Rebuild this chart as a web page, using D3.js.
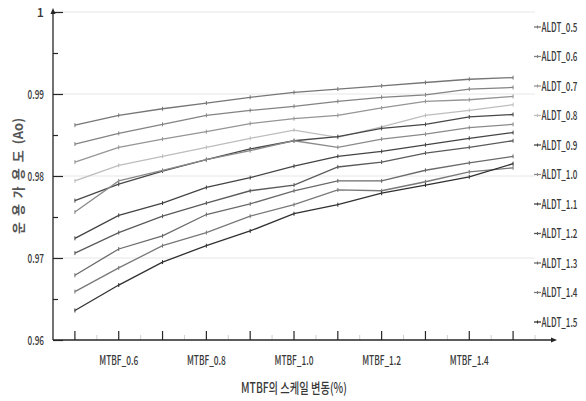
<!DOCTYPE html>
<html>
<head>
<meta charset="utf-8">
<script src="https://cdn.jsdelivr.net/npm/d3@7"></script>
<style>
  body { margin: 0; background: #fff; }
  text { font-family: "Noto Sans CJK KR", "Noto Sans", sans-serif; fill: #383838; font-weight: 500; }
</style>
</head>
<body>
<script>
// x categories, only every other one gets a label
const categories = ["MTBF_0.5", "MTBF_0.6", "MTBF_0.7", "MTBF_0.8", "MTBF_0.9", "MTBF_1.0",
                    "MTBF_1.1", "MTBF_1.2", "MTBF_1.3", "MTBF_1.4", "MTBF_1.5"];
const shownLabels = ["MTBF_0.6", "MTBF_0.8", "MTBF_1.0", "MTBF_1.2", "MTBF_1.4"];
const seriesNames = ["ALDT_0.5", "ALDT_0.6", "ALDT_0.7", "ALDT_0.8", "ALDT_0.9", "ALDT_1.0",
                     "ALDT_1.1", "ALDT_1.2", "ALDT_1.3", "ALDT_1.4", "ALDT_1.5"];

const aldt05 = [0.9862, 0.9874, 0.9882, 0.9889, 0.9896, 0.9902, 0.9906, 0.9910, 0.9914, 0.9918, 0.9920];
const aldt06 = [0.9839, 0.9852, 0.9863, 0.9874, 0.9880, 0.9885, 0.9891, 0.9896, 0.9899, 0.9906, 0.9908];
const aldt07 = [0.9817, 0.9835, 0.9845, 0.9854, 0.9864, 0.9870, 0.9874, 0.9883, 0.9891, 0.9893, 0.9897];
const aldt08 = [0.9794, 0.9813, 0.9824, 0.9835, 0.9846, 0.9856, 0.9847, 0.9860, 0.9874, 0.9880, 0.9887];
const aldt09 = [0.9770, 0.9790, 0.9806, 0.9820, 0.9833, 0.9843, 0.9848, 0.9858, 0.9863, 0.9872, 0.9875];
const aldt10 = [0.9756, 0.9794, 0.9807, 0.9820, 0.9831, 0.9843, 0.9835, 0.9845, 0.9851, 0.9859, 0.9863];
const aldt11 = [0.9724, 0.9752, 0.9767, 0.9786, 0.9798, 0.9812, 0.9824, 0.9830, 0.9838, 0.9846, 0.9853];
const aldt12 = [0.9706, 0.9731, 0.9751, 0.9767, 0.9782, 0.9789, 0.9811, 0.9817, 0.9828, 0.9835, 0.9843];
const aldt13 = [0.9679, 0.9711, 0.9727, 0.9753, 0.9766, 0.9782, 0.9794, 0.9794, 0.9807, 0.9816, 0.9824];
const aldt14 = [0.9659, 0.9688, 0.9715, 0.9731, 0.9751, 0.9765, 0.9783, 0.9782, 0.9793, 0.9805, 0.9810];
const aldt15 = [0.9636, 0.9667, 0.9695, 0.9715, 0.9733, 0.9754, 0.9765, 0.9779, 0.9789, 0.9799, 0.9815];

const yTicks = [0.96, 0.97, 0.98, 0.99, 1];
const yMinorTicks = [0.965, 0.975, 0.985, 0.995];

const series = [aldt05, aldt06, aldt07, aldt08, aldt09, aldt10, aldt11, aldt12, aldt13, aldt14, aldt15];
const lineColors = ["#767676", "#838383", "#959595", "#bdbdbd", "#474747", "#8a8a8a",
                    "#444444", "#5a5a5a", "#6a6a6a", "#787878", "#303030"];

// narrow a text to width w by scaling it horizontally around its anchor x
function squeeze(sel, w) {
  sel.each(function() {
    let t = d3.select(this);
    let natural = this.getComputedTextLength();
    if (!natural) return;
    let ax = +t.attr("x") || 0;
    t.attr("transform", "translate(" + ax + ",0) scale(" + (w / natural) + ",1) translate(" + (-ax) + ",0)");
  });
}

function main() {
  let svg = d3.select("body").append("svg")
    .attr("width", 586)
    .attr("height", 401);

  let x = d3.scaleBand().domain(categories).range([53, 535]);
  let y = d3.scaleLinear().domain([0.96, 1]).range([340, 12]);
  const cx = c => x(c) + x.bandwidth() / 2;

  // gridlines
  svg.append("g").selectAll("line")
    .data(yTicks.filter(d => d > 0.96))
    .enter().append("line")
    .attr("x1", 53).attr("x2", 535)
    .attr("y1", d => y(d)).attr("y2", d => y(d))
    .attr("stroke", "#e6e6e6");

  // y axis
  let gY = svg.append("g")
    .attr("transform", "translate(53,0)")
    .call(d3.axisLeft(y).tickValues(yTicks).tickSizeInner(-10).tickSizeOuter(0)
      .tickPadding(9).tickFormat(d => String(d)));
  gY.select(".domain").remove();
  gY.selectAll("line").attr("stroke", "#262626").attr("stroke-width", 1.2);
  gY.selectAll("text").style("font-size", "12.5px").attr("fill", null)
    .each(function(d) { if (d !== 1) squeeze(d3.select(this), 16.5); });

  let gYm = svg.append("g")
    .attr("transform", "translate(53,0)")
    .call(d3.axisLeft(y).tickValues(yMinorTicks).tickSizeInner(-5).tickSizeOuter(0).tickFormat(""));
  gYm.select(".domain").remove();
  gYm.selectAll("line").attr("stroke", "#262626").attr("stroke-width", 1.2);

  // x axis
  let gX = svg.append("g")
    .attr("transform", "translate(0,340)")
    .call(d3.axisBottom(x).tickSizeInner(-9).tickSizeOuter(0).tickPadding(16)
      .tickFormat(d => shownLabels.includes(d) ? d : ""));
  gX.select(".domain").remove();
  gX.selectAll("line").attr("stroke", "#262626").attr("stroke-width", 1.2);
  gX.selectAll("text").style("font-size", "12.5px").attr("fill", null)
    .each(function(d) { if (shownLabels.includes(d)) squeeze(d3.select(this), 39); });

  // faint minor ticks between categories
  svg.append("g").selectAll("line")
    .data(categories.slice(1).concat(["end"]))
    .enter().append("line")
    .attr("x1", d => d === "end" ? 535 : x(d))
    .attr("x2", d => d === "end" ? 535 : x(d))
    .attr("y1", 340).attr("y2", 335)
    .attr("stroke", "#d0d0d0");

  // axis lines with arrows
  svg.append("line").attr("x1", 53).attr("x2", 53).attr("y1", 340).attr("y2", 11)
    .attr("stroke", "#262626").attr("stroke-width", 1.3);
  svg.append("path").attr("d", "M53,8 L50.5,14 L55.5,14 Z").attr("fill", "#262626");
  svg.append("line").attr("x1", 53).attr("x2", 554).attr("y1", 340).attr("y2", 340)
    .attr("stroke", "#262626").attr("stroke-width", 1.3);
  svg.append("path").attr("d", "M557,340 L551,337.5 L551,342.5 Z").attr("fill", "#262626");

  // series lines
  let line = d3.line()
    .x((d, i) => cx(categories[i]))
    .y(d => y(d));

  series.forEach((vals, s) => {
    svg.append("path")
      .datum(vals)
      .attr("d", line)
      .attr("fill", "none")
      .attr("stroke", lineColors[s])
      .attr("stroke-width", 1.3);

    svg.append("g").selectAll("line")
      .data(vals)
      .enter().append("line")
      .attr("x1", (d, i) => cx(categories[i]))
      .attr("x2", (d, i) => cx(categories[i]))
      .attr("y1", d => y(d) - 2)
      .attr("y2", d => y(d) + 2)
      .attr("stroke", lineColors[s])
      .attr("stroke-width", 1);
  });

  // legend
  let legend = svg.append("g").selectAll("g")
    .data(seriesNames)
    .enter().append("g")
    .attr("transform", (d, i) => "translate(534," + (27 + i * 29.5) + ")");
  legend.append("line")
    .attr("x1", 0).attr("x2", 7)
    .attr("stroke", (d, i) => lineColors[i]).attr("stroke-width", 1.3);
  legend.append("line")
    .attr("x1", 3.5).attr("x2", 3.5).attr("y1", -1.5).attr("y2", 1.5)
    .attr("stroke", (d, i) => lineColors[i]);
  legend.append("text")
    .attr("x", 7.5)
    .attr("dy", "0.36em")
    .style("font-size", "12.5px")
    .text(d => d)
    .call(squeeze, 36);

  // axis titles
  svg.append("text")
    .attr("x", 294).attr("y", 393)
    .attr("text-anchor", "middle")
    .style("font-size", "14px")
    .text("MTBF의 스케일 변동(%)")
    .call(squeeze, 106);

  let yTitle = svg.append("text")
    .attr("transform", "translate(23,176) rotate(-90)")
    .attr("text-anchor", "middle")
    .style("font-size", "13px")
    .style("font-weight", "bold")
    .style("fill", "#555555");
  yTitle.append("tspan").style("letter-spacing", "6px").text("운용가용도");
  yTitle.append("tspan").text("(Ao)");
}

main();
</script>
</body>
</html>
